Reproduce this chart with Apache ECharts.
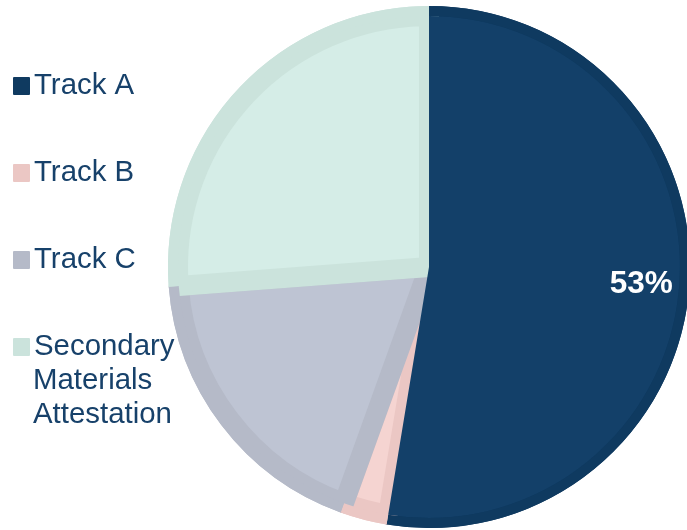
<!DOCTYPE html>
<html>
<head>
<meta charset="utf-8">
<script src="https://cdn.jsdelivr.net/npm/echarts@6/dist/echarts.min.js"></script>
<style>
html,body{margin:0;padding:0;background:#fff;}
#chart{width:687px;height:530px;}
</style>
</head>
<body>
<div id="chart"></div>
<script>
const categories = ['Track A', 'Track B', 'Track C', 'Secondary Materials Attestation'];
const values = [52.6, 2.9, 18.3, 26.2];
const fillColors = ['#134069', '#f5d4d1', '#bec4d3', '#d5ede7'];
const bandColors = ['#0f3a60', '#ebc7c4', '#b5bac8', '#cbe3dc'];
const labelShown = [true, false, false, false];

const FONT = '"Liberation Sans", Arial, sans-serif';
const TEXT_COLOR = '#17416a';
const CENTER = [429, 267];

const chart = echarts.init(document.getElementById('chart'));

const baseData = categories.map((n, i) => ({
  name: n, value: values[i],
  itemStyle: { color: fillColors[i], borderColor: bandColors[i] }
}));
const topData = categories.map((n, i) => ({
  name: n, value: values[i],
  itemStyle: { color: i === 0 ? fillColors[i] : 'rgba(0,0,0,0)' }
}));
const ringData = categories.map((n, i) => ({
  name: n, value: values[i],
  itemStyle: { color: bandColors[i] }
}));
const labelData = categories.map((n, i) => ({
  name: n, value: values[i],
  itemStyle: { color: 'rgba(0,0,0,0)' },
  label: { show: labelShown[i] }
}));

const legendWords = categories[3].split(' ');

function pieLayer(name, radius, data, extra) {
  return Object.assign({
    type: 'pie',
    name: name,
    center: CENTER,
    radius: radius,
    startAngle: 90,
    clockwise: true,
    silent: true,
    label: { show: false },
    labelLine: { show: false },
    emphasis: { disabled: true },
    itemStyle: { borderWidth: 0 },
    data: data
  }, extra || {});
}

chart.setOption({
  animation: false,
  backgroundColor: '#ffffff',
  legend: {
    orient: 'vertical',
    left: 13,
    top: 69,
    padding: 0,
    itemWidth: 15,
    itemHeight: 16,
    itemGap: 53,
    icon: 'rect',
    selectedMode: false,
    data: categories.map((n, i) => ({ name: n, itemStyle: { color: bandColors[i] } })),
    formatter: function (name) {
      return name === categories[3] ? legendWords[0] : name;
    },
    textStyle: { fontFamily: FONT, fontSize: 29.4, lineHeight: 34, color: TEXT_COLOR }
  },
  graphic: legendWords.slice(1).map((w, i) => ({
    type: 'text',
    x: 33,
    y: 381 + i * 33.5,
    style: {
      text: w,
      font: '29.4px ' + FONT,
      fill: TEXT_COLOR,
      verticalAlign: 'middle',
      align: 'left'
    },
    silent: true
  })),
  series: [
    pieLayer('base', 251, baseData, { itemStyle: { borderWidth: 20, borderJoin: 'round' } }),
    pieLayer('top', 251, topData),
    pieLayer('ring', [251, 261], ringData),
    pieLayer('labels', [159, 261], labelData, {
      label: {
        position: 'inside',
        color: '#ffffff',
        fontFamily: FONT,
        fontWeight: 'bold',
        fontSize: 31.5,
        formatter: function (p) { return Math.round(p.percent) + '%'; }
      },
      data: labelData
    })
  ]
});
</script>
</body>
</html>
